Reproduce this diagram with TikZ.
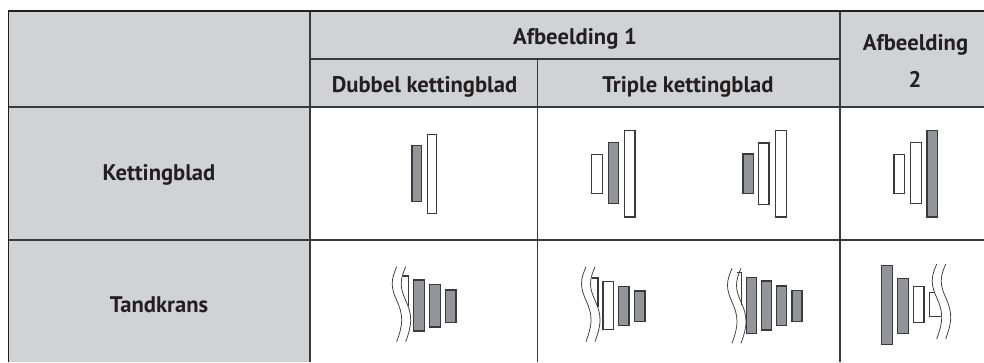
\documentclass[tikz,border=0pt]{standalone}
\usepackage{fontspec}
\setmainfont{PT Sans}
\definecolor{hdr}{HTML}{D1D2D4}
\definecolor{blk}{HTML}{939598}
\definecolor{ln}{HTML}{3A3A3C}
\definecolor{ink}{HTML}{231F20}
\tikzset{
 rule/.style={draw=ln,line width=1.1pt},
 frame/.style={draw=ink,line width=1.8pt},
 lbl/.style={font=\fontsize{22.6pt}{25pt}\selectfont\bfseries,text=ink,inner sep=0pt,anchor=base},
 gear/.style={draw=ln,line width=1.35pt,fill=blk},
 open/.style={draw=ln,line width=1.35pt,fill=white},
 wave/.style={draw=ln,line width=0.75pt}
}
\newcommand{\oneWave}[2]{%
 \draw[wave] (#1,#2) .. controls (#1-2.5,#2+6) and (#1-4.5,#2+11) .. (#1-4.5,#2+17)
   .. controls (#1-4.5,#2+30) and (#1+5,#2+38) .. (#1+5,#2+53)
   .. controls (#1+5,#2+61) and (#1+2.5,#2+68) .. (#1,#2+75);
}
\newcommand{\wavePair}[2]{\oneWave{#1}{#2}\oneWave{#1+9}{#2}}
\begin{document}
\begin{tikzpicture}[x=1pt,y=-1pt]
\useasboundingbox (0,0) rectangle (984,362);
\fill[hdr] (8.5,11) rectangle (984,107);
\fill[hdr] (8.5,107) rectangle (310,362);
\draw[rule] (310,59) -- (840,59);
\draw[rule] (8.5,107) -- (984,107);
\draw[rule] (8.5,240) -- (984,240);
\draw[rule] (310,11) -- (310,362);
\draw[rule] (537.5,59) -- (537.5,362);
\draw[rule] (840,11) -- (840,362);
\draw[frame] (8.5,362) -- (8.5,11) -- (984,11);
\node[lbl] (a1) at (575,44) {Afbeelding 1};
\node[lbl] (a2a) at (915.5,50) {Afbeelding};
\node[lbl] (a2b) at (915,87) {2};
\node[lbl] (d) at (424.5,92) {Dubbel kettingblad};
\node[lbl] (t) at (688,92) {Triple kettingblad};
\node[lbl] (k) at (159,180) {Kettingblad};
\node[lbl] (tk) at (159,312.7) {Tandkrans};
% chainrings
\draw[gear] (412,145.7) rectangle (421.7,201.3);
\draw[open] (427.3,134.7) rectangle (436.7,213.3);
\draw[open] (591.7,154.7) rectangle (602.3,193.7);
\draw[gear] (608.3,142.3) rectangle (618.7,203.7);
\draw[open] (624.3,130.7) rectangle (635,217);
\draw[gear] (743,154) rectangle (753.7,193.3);
\draw[open] (758.3,143) rectangle (769,204.3);
\draw[open] (775.3,130.7) rectangle (786.3,217);
\draw[open] (894,154.7) rectangle (904.7,193.7);
\draw[open] (910.3,142.3) rectangle (921.3,203.3);
\draw[gear] (927,130.7) rectangle (937.7,217);
% cassette 1
\draw[open,fill=none] (402.7,276) -- (408.3,276) -- (408.3,306);
\wavePair{396.7}{266.7}
\draw[gear] (413.7,280) rectangle (424.3,331);
\draw[gear] (429.7,284.7) rectangle (440.3,327);
\draw[gear] (445.7,290) rectangle (456,322.7);
% cassette 2
\draw[open,fill=none] (591.7,278) -- (598,278) -- (598,306.7);
\wavePair{586}{266.7}
\draw[open] (603,281.7) rectangle (613.3,329.3);
\draw[gear] (618.5,286.7) rectangle (629,325.7);
\draw[gear] (634.7,291) rectangle (645,321.7);
% cassette 3
\draw[open,fill=none] (737.3,272.7) -- (741.3,272.7) -- (741.3,305);
\wavePair{732}{268.3}
\draw[gear] (746.7,277.3) rectangle (756.7,333.7);
\draw[gear] (761.7,281) rectangle (771.7,330);
\draw[gear] (776.7,286) rectangle (786.7,325.7);
\draw[gear] (792,290.7) rectangle (802,321.7);
% cassette 4
\draw[gear] (881.7,265.7) rectangle (892.3,344.3);
\draw[gear] (897.7,278.3) rectangle (908.3,333.7);
\draw[open] (913.3,286.7) rectangle (924,322.3);
\draw[open,fill=none] (933.5,292.3) -- (929.3,292.3) -- (929.3,316.7) -- (940.5,316.7);
\wavePair{936.7}{264}
\end{tikzpicture}
\end{document}
